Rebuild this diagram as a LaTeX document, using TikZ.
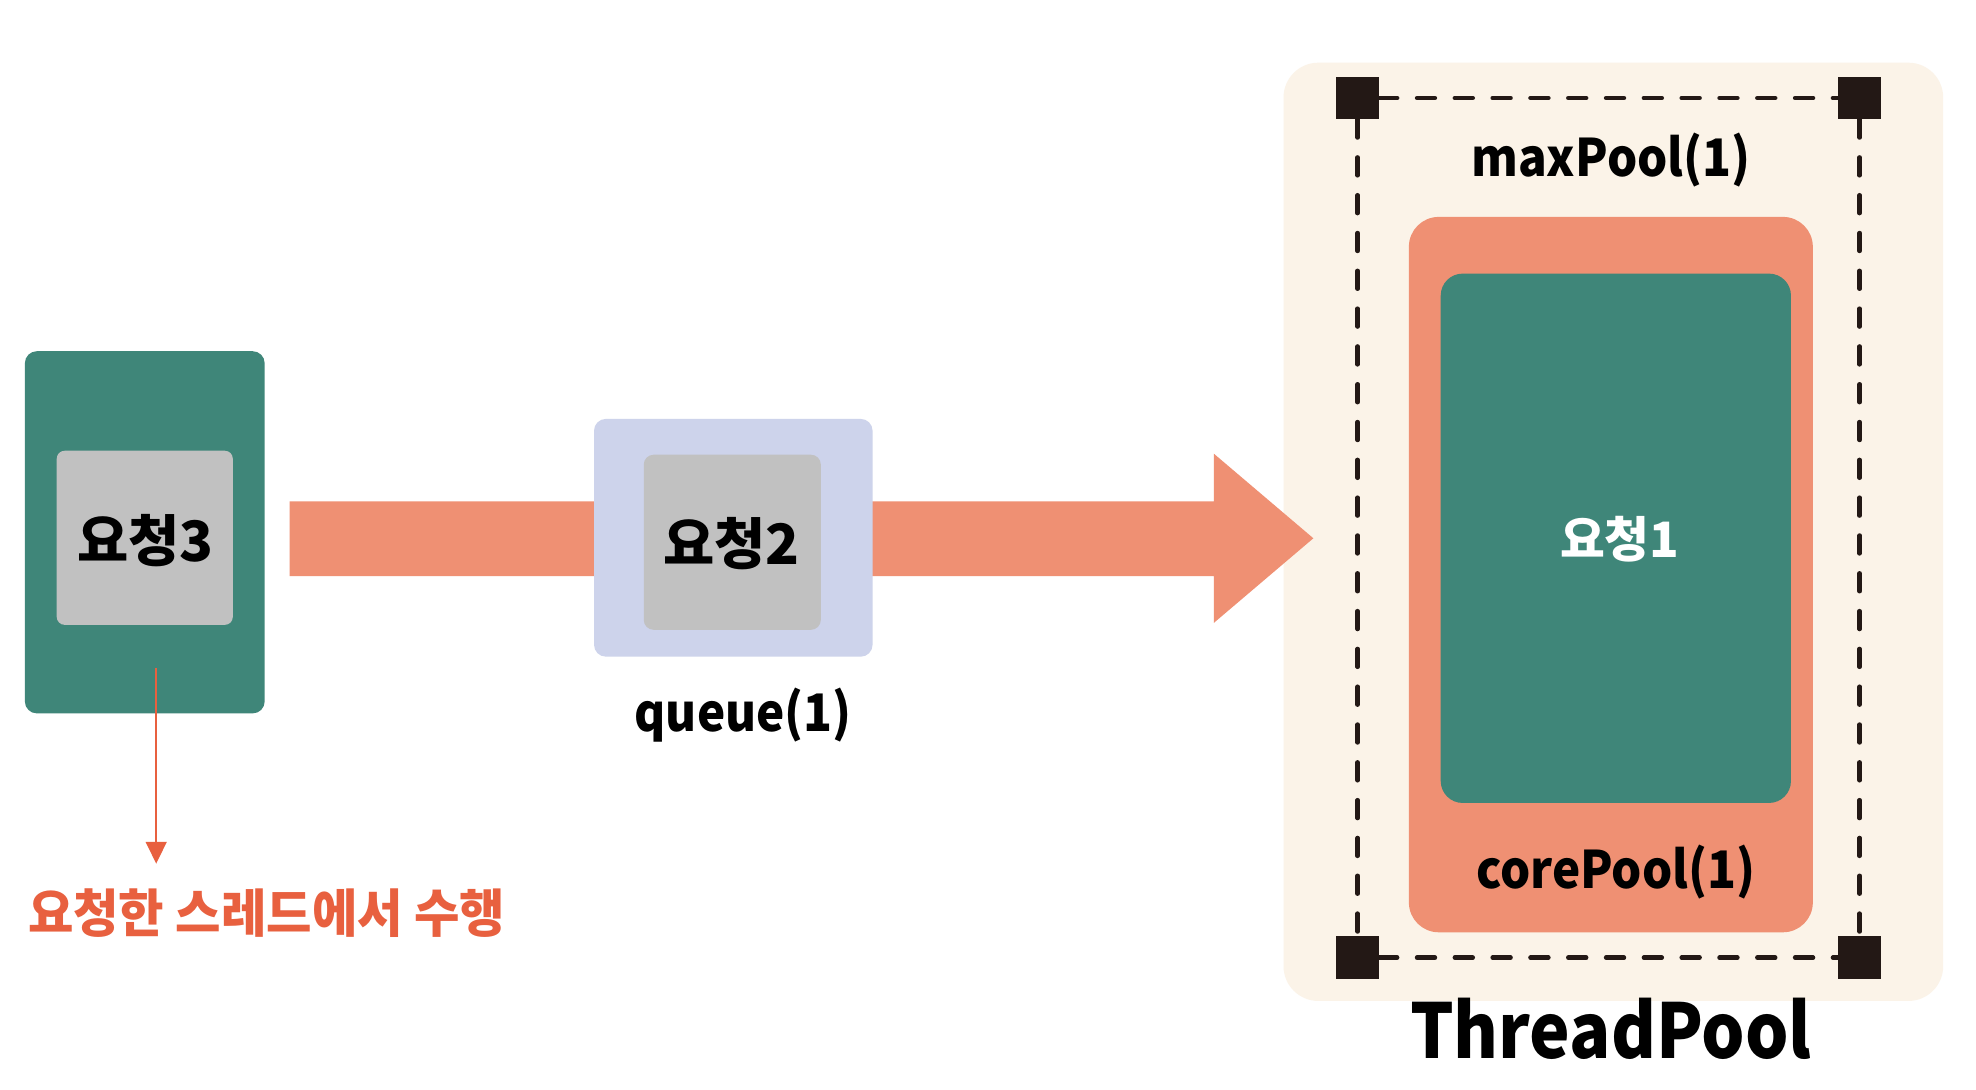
\documentclass[tikz,border=0pt]{standalone}
\usepackage{fontspec}
\setmainfont{Noto Sans CJK KR}
\usetikzlibrary{arrows.meta}
\definecolor{cgreen}{HTML}{3F8679}
\definecolor{cgray}{HTML}{C1C1C1}
\definecolor{clav}{HTML}{CDD3EB}
\definecolor{corange}{HTML}{EF9073}
\definecolor{cbg}{HTML}{FBF3E8}
\definecolor{cblack}{HTML}{231815}
\definecolor{cred}{HTML}{E8603F}
\newcommand\narrowtext[2]{\scalebox{#1}[1]{#2}}
\tikzset{
  box/.style={draw=none, inner sep=0, rounded corners=#1},
  box/.default=12,
  lbl/.style={inner sep=0, font=\bfseries\fontsize{52}{60}\selectfont},
  reqlbl/.style={inner sep=0, font=\bfseries\fontsize{56}{64}\selectfont},
  corner/.style={fill=cblack, inner sep=0, minimum width=43, minimum height=43},
  dashline/.style={draw=cblack, line width=4.5, dash pattern=on 18 off 20, line cap=round},
}
\begin{document}
\begin{tikzpicture}[x=1pt,y=-1pt]
\useasboundingbox[fill=white] (0,0) rectangle (1986,1095.5);
% thread pool background
\node[box=35, fill=cbg, minimum width=663, minimum height=943] (bg) at (1621.5,534.5) {};
\node[box=30, fill=corange, minimum width=406, minimum height=719] (core) at (1619,577.5) {};
\node[box=22, fill=cgreen, minimum width=352, minimum height=532] (r1) at (1624,541) {};
\node[inner sep=0, font=\bfseries\fontsize{49}{56}\selectfont, text=white] (t1) at (1628,542) {요청1};
\node[lbl, anchor=base] (corelbl) at (1624,893) {\narrowtext{0.92}{corePool(1)}};
\node[lbl, anchor=base] (maxlbl) at (1619,177) {\narrowtext{0.92}{maxPool(1)}};
% dashed frame with corner squares
\node[corner] (tl) at (1364.5,98.5) {};
\node[corner] (tr) at (1869,98.5) {};
\node[corner] (bl) at (1364.5,962.5) {};
\node[corner] (br) at (1869,962.5) {};
\draw[dashline] (tl.east) -- (tr.west);
\draw[dashline] (bl.east) -- (br.west);
\draw[dashline] (tl.south) -- (bl.north);
\draw[dashline] (tr.south) -- (br.north);
\node[inner sep=0, anchor=base, font=\bfseries\fontsize{76}{80}\selectfont] (tplbl) at (1619,1064) {\narrowtext{0.905}{ThreadPool}};
% big arrow
\coordinate (a0) at (291,541);
\coordinate (atip) at (1320,541);
\fill[corange] (291,504) -- (1220,504) -- (1220,456) -- (atip) -- (1220,626) -- (1220,579) -- (291,579) -- cycle;
% request 3
\node[box=12, fill=cgreen, minimum width=241, minimum height=364] (r3) at (145.5,535) {};
\node[box=8, fill=cgray, minimum width=177, minimum height=175] (g3) at (145.5,540.5) {};
\node[reqlbl] (t3) at (146,543) {요청3};
% queue
\node[box=12, fill=clav, minimum width=280, minimum height=239] (q) at (737,540.5) {};
\node[box=10, fill=cgray, minimum width=178, minimum height=176] (g2) at (736,545) {};
\node[reqlbl] (t2) at (735,546) {요청2};
\node[lbl, anchor=base] (qlbl) at (747,735) {\narrowtext{0.92}{queue(1)}};
% caller runs
\coordinate (rs) at (157,671);
\node[lbl, anchor=base west, text=cred] (run) at (28,937) {\narrowtext{0.955}{요청한 스레드에서 수행}};
\coordinate (re) at (157,868);
\draw[cred, line width=2, -{Triangle[width=21,length=22]}] (rs) -- (re);
\end{tikzpicture}
\end{document}
